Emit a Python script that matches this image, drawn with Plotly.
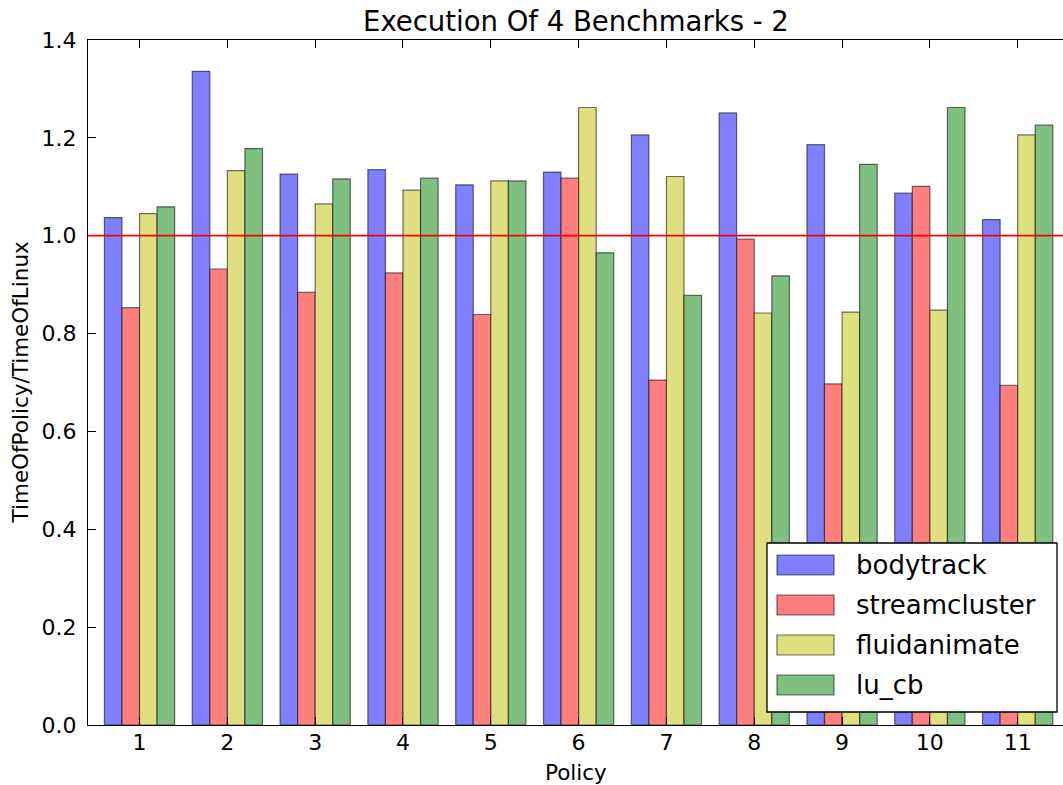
import plotly.graph_objects as go

# Normalised run time (policy / Linux) for each benchmark under policies 1..11
policies = [1, 2, 3, 4, 5, 6, 7, 8, 9, 10, 11]
bodytrack = [1.037, 1.336, 1.126, 1.135, 1.104, 1.130, 1.206, 1.251, 1.186, 1.087, 1.033]
streamcluster = [0.853, 0.932, 0.884, 0.924, 0.839, 1.118, 0.705, 0.993, 0.697, 1.101, 0.694]
fluidanimate = [1.045, 1.133, 1.065, 1.093, 1.112, 1.262, 1.121, 0.842, 0.844, 0.848, 1.206]
lu_cb = [1.059, 1.178, 1.116, 1.118, 1.112, 0.965, 0.878, 0.918, 1.146, 1.262, 1.226]

series_names = ["bodytrack", "streamcluster", "fluidanimate", "lu_cb"]
series_values = [bodytrack, streamcluster, fluidanimate, lu_cb]
series_colors = ["#7f7fff", "#ff7f7f", "#dfdf7f", "#7fbf7f"]
edge_color = "rgba(0,0,0,0.55)"

y_ticks = [0.0, 0.2, 0.4, 0.6, 0.8, 1.0, 1.2, 1.4]
baseline = 1.0

W, H = 1063, 785
ML, MR, MT, MB = 88, 0, 40, 60
PW, PH = W - ML - MR, H - MT - MB
FONT = "DejaVu Sans"

fig = go.Figure()
for name, vals, col in zip(series_names, series_values, series_colors):
    fig.add_trace(go.Bar(
        x=policies, y=vals, name=name,
        marker=dict(color=col, line=dict(color=edge_color, width=1.2)),
        showlegend=False,
    ))

fig.update_layout(
    width=W, height=H,
    margin=dict(l=ML, r=MR, t=MT, b=MB),
    paper_bgcolor="white", plot_bgcolor="white",
    barmode="group", bargap=0.2, bargroupgap=0,
    font=dict(family=FONT, color="black", size=22),
)

axis_common = dict(
    showgrid=False, zeroline=False, showline=True, linecolor="black", linewidth=1.3,
    ticks="inside", ticklen=8, tickwidth=1, tickcolor="black",
    tickfont=dict(family=FONT, size=22, color="black"),
)
fig.update_xaxes(range=[0.413, 11.516], tickmode="array", tickvals=policies,
                 ticktext=[str(p) for p in policies], mirror="ticks",
                 ticklabelstandoff=-3, **axis_common)
fig.update_yaxes(range=[0, 1.4], tickmode="array", tickvals=y_ticks,
                 ticktext=[f"{v:.1f}" for v in y_ticks],
                 ticklabelstandoff=6, **axis_common)

# Reference line at ratio 1.0
fig.add_shape(type="line", xref="paper", yref="y", x0=0, x1=1, y0=baseline, y1=baseline,
              line=dict(color="red", width=1.8), layer="above")

# Titles
fig.add_annotation(text="Execution Of 4 Benchmarks - 2", xref="paper", yref="paper",
                   x=0.5, y=1, yshift=1, xanchor="center", yanchor="bottom", showarrow=False,
                   font=dict(family=FONT, size=27.5, color="black"))
fig.add_annotation(text="Policy", xref="paper", yref="paper", x=0.5, y=0,
                   yshift=-33, xanchor="center", yanchor="top", showarrow=False,
                   font=dict(family=FONT, size=21.5, color="black"))
fig.add_annotation(text="TimeOfPolicy/TimeOfLinux", xref="paper", yref="paper",
                   x=0, y=0.5, xshift=-68, textangle=-90, xanchor="center", yanchor="middle",
                   showarrow=False, font=dict(family=FONT, size=21.5, color="black"))


def px_x(p):
    return (p - ML) / PW


def px_y(p):
    return (MT + PH - p) / PH


# Legend box with colour patches
box_l, box_r, box_t, box_b = 767, 1057, 543, 712
fig.add_shape(type="rect", xref="paper", yref="paper",
              x0=px_x(box_l), x1=px_x(box_r), y0=px_y(box_b), y1=px_y(box_t),
              line=dict(color="black", width=1.3), fillcolor="white", layer="above")
row0, row_step, patch_h = 565, 40, 20
for i, (name, col) in enumerate(zip(series_names, series_colors)):
    cy = row0 + i * row_step
    fig.add_shape(type="rect", xref="paper", yref="paper",
                  x0=px_x(777), x1=px_x(834),
                  y0=px_y(cy + patch_h / 2), y1=px_y(cy - patch_h / 2),
                  line=dict(color=edge_color, width=1.2), fillcolor=col, layer="above")
    fig.add_annotation(text=name, xref="paper", yref="paper", x=px_x(854), y=px_y(cy),
                       xanchor="left", yanchor="middle", showarrow=False,
                       font=dict(family=FONT, size=26, color="black"))

fig.write_html("out.html")
